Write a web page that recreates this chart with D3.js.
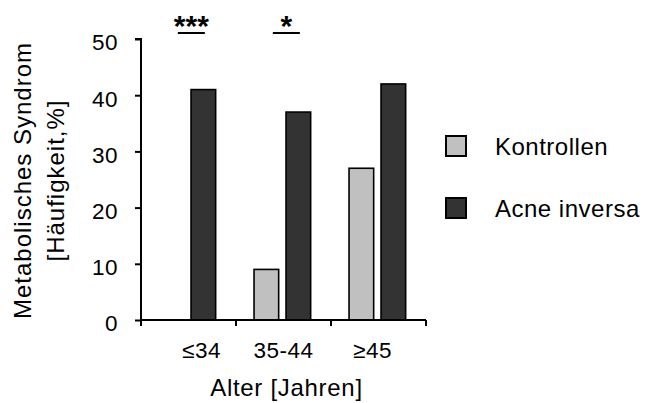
<!DOCTYPE html>
<html>
<head>
<meta charset="utf-8">
<script src="https://cdn.jsdelivr.net/npm/d3@7"></script>
<style>
  body { margin: 0; background: #fff; }
  text { font-family: "Liberation Sans", Arial, sans-serif; fill: #000; }
</style>
</head>
<body>
<div id="chart"></div>
<script>
const groups = ["\u226434", "35-44", "\u226545"];
const seriesNames = ["Kontrollen", "Acne inversa"];
const kontrollen = [0, 9, 27];
const acneInversa = [41, 37, 42];
const yTicks = [0, 10, 20, 30, 40, 50];
const significance = [
    { group: "\u226434", label: "***" },
    { group: "35-44", label: "*" }
];
const colors = ["#c0c0c0", "#333333"];

const margin = { top: 39, right: 220, bottom: 83, left: 141 };
const width = 646 - margin.left - margin.right;
const height = 403 - margin.top - margin.bottom;

const svg = d3.select("#chart").append("svg")
    .attr("width", 646)
    .attr("height", 403)
    .append("g")
    .attr("transform", "translate(" + margin.left + "," + margin.top + ")");

const x0 = d3.scaleBand()
    .domain(groups)
    .range([0, width]);

const x1 = d3.scaleBand()
    .domain(seriesNames)
    .range([0, x0.bandwidth()])
    .paddingInner(0.23)
    .paddingOuter(0.6)
    .align(0.47);

const y = d3.scaleLinear()
    .domain([0, 50])
    .range([height, 0]);

const data = groups.map((g, i) => ({
    group: g,
    values: [
        { key: seriesNames[0], value: kontrollen[i] },
        { key: seriesNames[1], value: acneInversa[i] }
    ]
}));

// bars
svg.selectAll(".grp")
    .data(data)
    .enter().append("g")
    .attr("class", "grp")
    .attr("transform", d => "translate(" + x0(d.group) + ",0)")
    .selectAll("rect")
    .data(d => d.values.filter(v => v.value > 0))
    .enter().append("rect")
    .attr("x", d => x1(d.key))
    .attr("width", x1.bandwidth())
    .attr("y", d => y(d.value))
    .attr("height", d => height - y(d.value))
    .style("fill", d => colors[seriesNames.indexOf(d.key)])
    .style("stroke", "#000")
    .style("stroke-width", 1.6);

// y axis
const yAxis = svg.append("g")
    .attr("class", "y axis")
    .call(d3.axisLeft(y).tickValues(yTicks).tickSize(6).tickPadding(17));
yAxis.select(".domain").attr("d", "M-6," + y(50) + "H0V" + height).style("stroke-width", 2);
yAxis.selectAll(".tick line").style("stroke-width", 2);
yAxis.selectAll("text")
    .style("font-size", "22.5px")
    .style("letter-spacing", "0.5px")
    .attr("dy", "0.48em");

// x axis
const xAxis = svg.append("g")
    .attr("class", "x axis")
    .attr("transform", "translate(0," + height + ")")
    .call(d3.axisBottom(x0).tickSize(0).tickPadding(22));
xAxis.select(".domain").attr("d", "M0,0H" + width).style("stroke-width", 2);
const labelShift = [13, 0, -6];
xAxis.selectAll(".tick text")
    .style("font-size", "22.5px")
    .style("letter-spacing", "0.5px")
    .attr("dx", (d, i) => labelShift[i]);
// boundary ticks between groups
xAxis.selectAll(".sep")
    .data([0].concat(groups.map(g => x0(g) + x0.bandwidth())))
    .enter().append("line")
    .attr("class", "sep")
    .attr("x1", d => d).attr("x2", d => d)
    .attr("y1", 0).attr("y2", 6)
    .style("stroke", "#000")
    .style("stroke-width", 2);

// axis titles
svg.append("text")
    .attr("x", width / 2 + 3)
    .attr("y", height + 76)
    .attr("text-anchor", "middle")
    .style("font-size", "24px")
    .style("letter-spacing", "0.7px")
    .text("Alter [Jahren]");

const yTitle = svg.append("text")
    .attr("transform", "translate(" + (-110) + "," + (height / 2 + 1) + ") rotate(-90)")
    .attr("text-anchor", "middle")
    .style("font-size", "24px")
    .style("letter-spacing", "1px");
yTitle.append("tspan").attr("x", 0).attr("dy", 0).text("Metabolisches Syndrom");
yTitle.append("tspan").attr("x", 0).attr("dy", 33).text("[H\u00e4ufigkeit,%]");

// significance markers
significance.forEach(s => {
    const cx = x0(s.group) + (x1(seriesNames[0]) + x1(seriesNames[1]) + x1.bandwidth()) / 2 + 4;
    svg.append("line")
        .attr("x1", cx - 13.5).attr("x2", cx + 13.5)
        .attr("y1", -6).attr("y2", -6)
        .style("stroke", "#000")
        .style("stroke-width", 2);
    svg.append("text")
        .attr("x", cx)
        .attr("y", -3)
        .attr("text-anchor", "middle")
        .style("font-size", "30px")
        .style("font-weight", "bold")
        .text(s.label);
});

// legend
const legend = svg.selectAll(".legend")
    .data(seriesNames)
    .enter().append("g")
    .attr("class", "legend")
    .attr("transform", (d, i) => "translate(" + (446 - margin.left) + "," + (136 - margin.top + i * 62) + ")");
legend.append("rect")
    .attr("width", 20)
    .attr("height", 20)
    .style("fill", (d, i) => colors[i])
    .style("stroke", "#000")
    .style("stroke-width", 2);
legend.append("text")
    .attr("x", 49)
    .attr("y", 19)
    .style("font-size", "24px")
    .style("letter-spacing", "0.5px")
    .text(d => d);
</script>
</body>
</html>
